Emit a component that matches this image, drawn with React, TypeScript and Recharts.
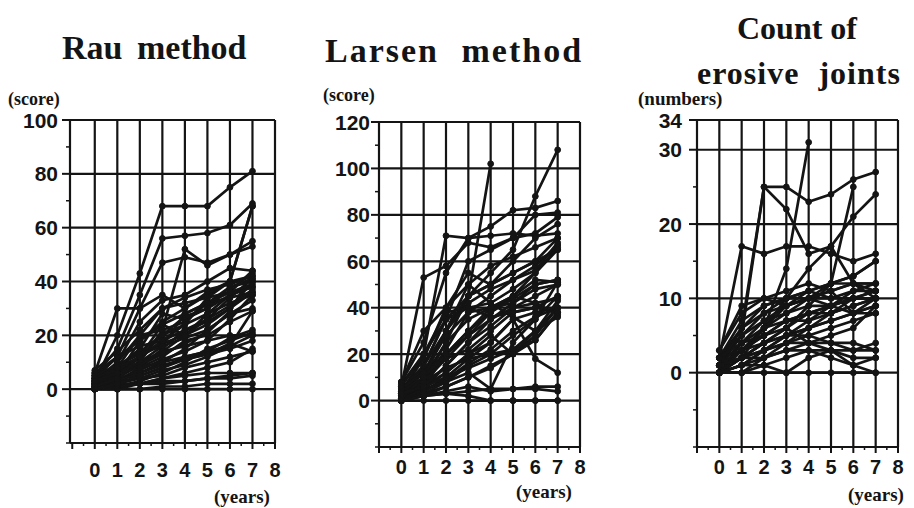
import React from 'react';
import { LineChart, Line, XAxis, YAxis, ReferenceLine } from 'recharts';

// follow-up years (x values of every series)
const years = [0, 1, 2, 3, 4, 5, 6, 7];
const yearLabels = [0, 1, 2, 3, 4, 5, 6, 7, 8];

// Rau method score per patient, years 0..7
const rauScores: (number | null)[][] = [
  [3, 20, 43, 68, 68, 68, 75, 81],
  [5, 15, 35, 56, 57, 58, 61, 69],
  [4, 12, 30, 47, 49, 47, 50, 55],
  [2, 5, 10, 22, 52, 46, 50, 53],
  [6, 30, 30, 35, 30, 35, 40, 68],
  [2, 10, 25, 33, 35, 40, 45, 44],
  [0, 5, 18, 25, 30, 36, 40, 42],
  [4, 8, 15, 28, 26, 30, 38, 40],
  [1, 6, 12, 20, 24, 28, 35, 38],
  [3, 10, 20, 22, 25, 32, 34, 41],
  [0, 2, 8, 15, 22, 25, 30, 36],
  [5, 12, 18, 24, 20, 28, 32, 35],
  [2, 4, 6, 10, 15, 22, 28, 33],
  [1, 3, 8, 12, 18, 20, 25, 29],
  [0, 1, 3, 6, 10, 15, 18, 21],
  [4, 6, 10, 14, 16, 18, 20, 20],
  [0, 0, 2, 4, 6, 8, 10, 15],
  [2, 3, 4, 5, 8, 10, 12, 14],
  [0, 1, 2, 2, 3, 4, 5, 6],
  [1, 2, 2, 3, 3, 4, 4, 5],
  [0, 0, 0, 1, 1, 2, 2, 2],
  [0, 0, 0, 0, 0, 0, 0, 0],
  [3, 8, 14, 20, 27, 30, 35, 38],
  [6, 12, 16, 18, 22, 26, 34, 36],
  [2, 7, 12, 17, 20, 24, 30, 40],
  [0, 3, 7, 11, 14, 18, 26, 35],
  [5, 9, 13, 16, 19, 22, 28, 30],
  [1, 5, 9, 13, 17, 21, 29, 43],
  [3, 4, 5, 8, 12, 14, 19, 22],
  [0, 2, 4, 7, 9, 12, 16, 20],
  [2, 6, 10, 16, 28, 32, 38, 41],
  [7, 14, 22, 30, 32, 34, 36, 39],
  [1, 3, 6, 9, 11, 13, 15, 18],
  [0, 1, 2, 4, 5, 6, 6, 6],
  [4, 8, 12, 18, 24, 34, 40, 68],
  [2, 8, 20, 30, 34, 37, 39, 42],
  [0, 4, 9, 14, 20, 26, 31, 37],
  [3, 6, 8, 10, 12, 14, 16, 29],
  [1, 4, 12, 24, 28, 32, 36, 44],
  [0, 2, 5, 8, 11, 13, 17, 14],
];

// Larsen method score per patient
const larsenScores: (number | null)[][] = [
  [5, 12, 30, 45, 55, 65, 88, 108],
  [8, 25, 55, 70, 75, 82, 83, 86],
  [3, 20, 71, 70, 71, 72, 71, 72],
  [6, 53, 58, 68, 66, 70, 80, 81],
  [2, 10, 25, 45, 102, null, null, null],
  [0, 15, 35, 60, 65, 70, 72, 79],
  [4, 18, 40, 55, 50, 60, 70, 76],
  [2, 10, 30, 45, 50, 55, 60, 70],
  [0, 8, 22, 38, 45, 52, 58, 67],
  [5, 15, 35, 40, 42, 48, 55, 65],
  [1, 6, 20, 30, 38, 45, 55, 66],
  [3, 12, 28, 38, 40, 42, 50, 52],
  [0, 5, 15, 25, 35, 40, 45, 50],
  [7, 20, 38, 40, 36, 38, 40, 38],
  [2, 10, 18, 22, 30, 38, 40, 45],
  [0, 4, 10, 18, 25, 35, 38, 40],
  [1, 6, 12, 20, 28, 20, 26, 38],
  [4, 8, 14, 18, 20, 22, 30, 36],
  [0, 3, 6, 10, 15, 20, 28, 40],
  [2, 5, 8, 12, 5, 25, 35, 45],
  [0, 2, 4, 6, 4, 5, 6, 6],
  [1, 2, 3, 4, 5, 5, 5, 4],
  [0, 0, 0, 0, 0, 0, 0, 0],
  [0, 2, 3, 2, 0, 0, 0, 0],
  [6, 20, 35, 45, 50, 55, 60, 65],
  [3, 15, 30, 42, 48, 52, 56, 68],
  [0, 8, 25, 35, 40, 45, 52, 51],
  [5, 12, 20, 28, 35, 42, 48, 50],
  [2, 6, 15, 25, 32, 40, 42, 44],
  [1, 4, 9, 16, 22, 30, 36, 40],
  [8, 30, 40, 50, 42, 36, 30, 40],
  [0, 5, 12, 20, 25, 35, 18, 12],
  [4, 10, 20, 30, 40, 45, 42, 37],
  [0, 3, 8, 15, 20, 28, 35, 51],
  [2, 8, 18, 28, 38, 44, 50, 52],
  [1, 10, 30, 50, 58, 62, 66, 70],
  [3, 6, 10, 14, 18, 22, 26, 38],
  [0, 2, 6, 10, 14, 20, 30, 43],
];

// count of erosive joints per patient
const erosiveCounts: (number | null)[][] = [
  [2, 17, 16, 17, 17, 16, 15, 16],
  [1, 5, 25, 25, 23, 24, 26, 27],
  [1, 6, 25, 22, 16, 17, 12, 10],
  [0, 3, 6, 14, 31, null, null, null],
  [1, 3, 6, 10, 14, 17, 21, 24],
  [0, 2, 4, 6, 9, 12, 25, null],
  [3, 8, 10, 11, 12, 11, 12, 12],
  [2, 6, 9, 10, 11, 10, 11, 11],
  [1, 5, 8, 9, 10, 12, 13, 15],
  [0, 4, 7, 9, 10, 10, 10, 10],
  [1, 3, 6, 8, 9, 9, 10, 10],
  [2, 7, 9, 10, 10, 9, 8, 9],
  [0, 2, 4, 6, 8, 9, 10, 11],
  [1, 4, 5, 7, 8, 8, 9, 10],
  [0, 1, 3, 5, 6, 7, 8, 8],
  [2, 3, 4, 5, 6, 7, 8, 10],
  [0, 2, 3, 4, 4, 5, 6, 9],
  [1, 2, 2, 3, 4, 4, 4, 3],
  [0, 1, 1, 2, 3, 3, 3, 3],
  [0, 0, 1, 0, 2, 3, 1, 2],
  [0, 0, 0, 0, 0, 0, 0, 0],
  [1, 3, 5, 6, 4, 3, 2, 2],
  [2, 5, 7, 8, 10, 11, 8, 9],
  [0, 2, 6, 9, 11, 12, 12, 12],
  [1, 6, 8, 10, 11, 12, 13, 15],
  [3, 9, 10, 9, 10, 11, 12, 11],
  [0, 1, 2, 4, 6, 8, 9, 10],
  [1, 2, 4, 5, 5, 4, 3, 4],
  [0, 3, 5, 7, 7, 8, 10, 10],
  [2, 4, 6, 7, 8, 9, 11, 12],
  [0, 1, 3, 4, 5, 6, 7, 8],
  [1, 2, 3, 5, 7, 9, 10, 11],
  [0, 0, 2, 3, 3, 2, 1, 0],
];

const rauGrid = [-20, 0, 20, 40, 60, 80, 100];
const rauLabels = [0, 20, 40, 60, 80, 100];
const rauMinor = [-10, 10, 30, 50, 70, 90];

const larsenGrid = [-20, 0, 20, 40, 60, 80, 100, 120];
const larsenLabels = [0, 20, 40, 60, 80, 100, 120];
const larsenMinor = [-10, 10, 30, 50, 70, 90, 110];

const erosiveGrid = [-10, 0, 10, 20, 30, 34];
const erosiveLabels = [0, 10, 20, 30, 34];
const erosiveMinor = [-5, 5, 15, 25];

const INK = '#141414';
const serif = '"Liberation Serif", "Times New Roman", serif';
const sans = '"Liberation Sans", Arial, sans-serif';

type PanelProps = {
  left: number;
  width: number;
  plotLeft: number;
  plotRight: number;
  plotTop: number;
  plotBottom: number;
  xMin: number;
  yDomain: [number, number];
  grid: number[];
  labels: number[];
  minor: number[];
  series: (number | null)[][];
  labelGap: number;
  xLabelDy: number;
};

function Panel(p: PanelProps) {
  const rows = years.map((yr, i) => {
    const r: any = { year: yr };
    p.series.forEach((s, k) => {
      r['p' + k] = s[i];
    });
    return r;
  });
  const axisW = p.plotLeft - p.left;
  const bottomLocal = p.plotBottom;
  const xTicks: number[] = [];
  for (let v = -1; v <= 8; v += 0.5) xTicks.push(v);
  const yTicks = [...p.grid, ...p.minor].sort((a, b) => a - b);

  const xTick = (t: any) => {
    const v = t.payload.value;
    const major = Number.isInteger(v);
    return (
      <g>
        <line x1={t.x} x2={t.x} y1={bottomLocal} y2={bottomLocal + (major ? 6 : 3)} stroke={INK} strokeWidth={major ? 2 : 1.5} />
        {major && v >= 0 && (
          <text x={t.x} y={bottomLocal + p.xLabelDy} textAnchor="middle" dominantBaseline="central"
            style={{ fontFamily: sans, fontWeight: 700, fontSize: 20, fill: INK }}>
            {v}
          </text>
        )}
      </g>
    );
  };

  const yTick = (t: any) => {
    const v = t.payload.value;
    const isLabel = p.labels.includes(v);
    const isMajor = p.grid.includes(v) && v !== p.yDomain[0];
    return (
      <g>
        <line x1={axisW - (isMajor ? 8 : 4)} x2={axisW} y1={t.y} y2={t.y} stroke={INK} strokeWidth={isMajor ? 2 : 1.5} />
        {isLabel && (
          <text x={axisW - p.labelGap} y={t.y} textAnchor="end" dominantBaseline="central"
            style={{ fontFamily: sans, fontWeight: 700, fontSize: 21, fill: INK }}>
            {v}
          </text>
        )}
      </g>
    );
  };

  return (
    <div style={{ position: 'absolute', left: p.left, top: 0 }}>
      <LineChart
        width={p.width}
        height={508}
        data={rows}
        margin={{ top: p.plotTop, right: p.left + p.width - p.plotRight, bottom: 508 - p.plotBottom - 30, left: 0 }}
      >
        <XAxis dataKey="year" type="number" domain={[p.xMin, 8]} ticks={xTicks} interval={0} allowDataOverflow
          height={30} tickLine={false} axisLine={false} tick={xTick} />
        <YAxis type="number" domain={p.yDomain} ticks={yTicks} interval={0} allowDataOverflow
          width={axisW} tickLine={false} axisLine={false} tick={yTick} />
        {p.grid.map((g) => (
          <ReferenceLine key={'h' + g} y={g} stroke={INK} strokeWidth={2.2} ifOverflow="visible" />
        ))}
        {[p.xMin, ...yearLabels].map((g) => (
          <ReferenceLine key={'v' + g} x={g} stroke={INK} strokeWidth={2.2} ifOverflow="visible" />
        ))}
        {p.series.map((_, k) => (
          <Line key={k} dataKey={'p' + k} type="linear" stroke={INK} strokeWidth={2.7}
            dot={{ r: 2.9, fill: INK, stroke: INK, strokeWidth: 1 }} isAnimationActive={false} />
        ))}
      </LineChart>
    </div>
  );
}

const titleStyle: React.CSSProperties = {
  position: 'absolute',
  fontFamily: serif,
  fontWeight: 700,
  fontSize: 34,
  color: INK,
  whiteSpace: 'nowrap',
  lineHeight: 1,
};

const smallStyle: React.CSSProperties = {
  position: 'absolute',
  fontFamily: serif,
  fontWeight: 700,
  fontSize: 18,
  color: INK,
  whiteSpace: 'nowrap',
  lineHeight: 1,
};

export default function App() {
  return (
    <div style={{ position: 'absolute', left: 0, top: 0, width: 914, height: 508, background: '#fff', overflow: 'hidden' }}>
      <Panel left={0} width={310} plotLeft={70} plotRight={275} plotTop={120} plotBottom={443} xMin={-1.1}
        yDomain={[-20, 100]} grid={rauGrid} labels={rauLabels} minor={rauMinor} series={rauScores} labelGap={12} xLabelDy={27} />
      <Panel left={310} width={300} plotLeft={379} plotRight={580} plotTop={122} plotBottom={447} xMin={-1}
        yDomain={[-20, 120]} grid={larsenGrid} labels={larsenLabels} minor={larsenMinor} series={larsenScores} labelGap={9} xLabelDy={20} />
      <Panel left={620} width={294} plotLeft={697} plotRight={898} plotTop={120} plotBottom={447} xMin={-1}
        yDomain={[-10, 34]} grid={erosiveGrid} labels={erosiveLabels} minor={erosiveMinor} series={erosiveCounts} labelGap={15} xLabelDy={20} />

      <div style={{ ...titleStyle, left: 62, top: 31, wordSpacing: 6 }}>Rau method</div>
      <div style={{ ...titleStyle, left: 325, top: 34, letterSpacing: 2, wordSpacing: 12 }}>Larsen method</div>
      <div style={{ ...titleStyle, left: 737, top: 12, fontSize: 32 }}>Count of</div>
      <div style={{ ...titleStyle, left: 697, top: 57, fontSize: 32, letterSpacing: 1, wordSpacing: 10 }}>erosive joints</div>

      <div style={{ ...smallStyle, left: 8, top: 90 }}>(score)</div>
      <div style={{ ...smallStyle, left: 323, top: 86 }}>(score)</div>
      <div style={{ ...smallStyle, left: 638, top: 89, fontSize: 19 }}>(numbers)</div>

      <div style={{ ...smallStyle, left: 214, top: 487, fontSize: 19 }}>(years)</div>
      <div style={{ ...smallStyle, left: 516, top: 482, fontSize: 19 }}>(years)</div>
      <div style={{ ...smallStyle, left: 848, top: 485, fontSize: 19 }}>(years)</div>
    </div>
  );
}
